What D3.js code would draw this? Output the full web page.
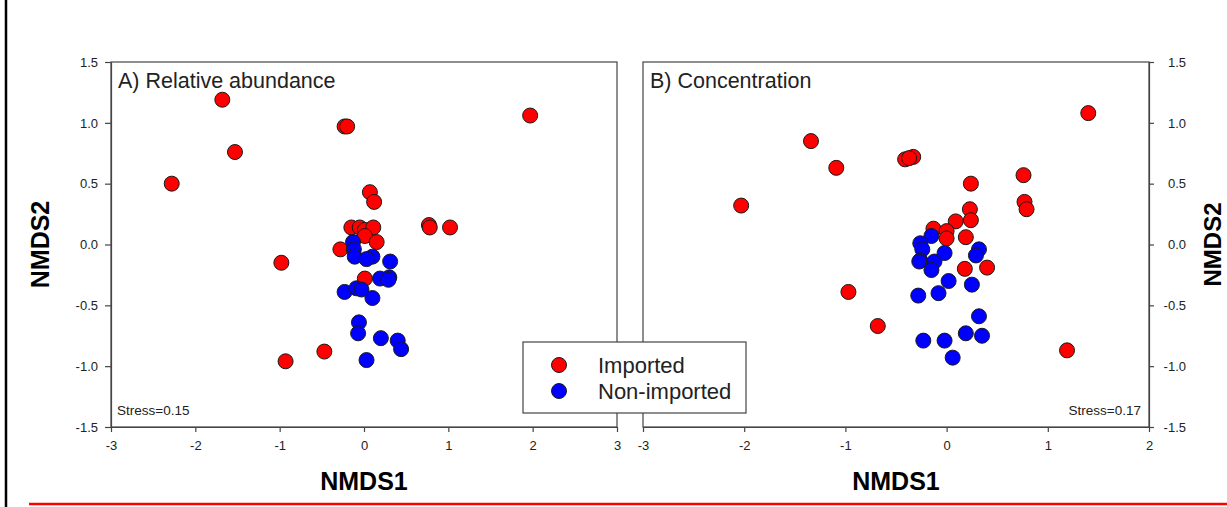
<!DOCTYPE html>
<html>
<head>
<meta charset="utf-8">
<script src="https://cdn.jsdelivr.net/npm/d3@7"></script>
<style>
  body { margin: 0; background: #fff; }
  svg text { font-family: "Liberation Sans", Arial, sans-serif; }
</style>
</head>
<body>
<div id="container"></div>
<script>
/* CONSTANTS AND GLOBALS */
const width = 1227;
const height = 507;

/* DATA */
const groups = ["Imported", "Non-imported"];
const groupColors = ["#ff0000", "#0000ff"];
const yTicks = [-1.5, -1.0, -0.5, 0.0, 0.5, 1.0, 1.5];

// A) Relative abundance
const aTitle = "A) Relative abundance";
const aStress = "Stress=0.15";
const aXTicks = [-3, -2, -1, 0, 1, 2, 3];
const aImported = [
  [-1.68, 1.19], [-0.23, 0.97], [-0.20, 0.97], [-1.53, 0.76], [1.97, 1.06],
  [-2.28, 0.50], [0.07, 0.43], [0.12, 0.35], [-0.15, 0.14], [-0.05, 0.14],
  [0.01, 0.12], [0.11, 0.14], [0.01, 0.07], [0.15, 0.02], [-0.28, -0.04],
  [-0.98, -0.15], [0.77, 0.16], [0.78, 0.14], [1.02, 0.14], [0.01, -0.28],
  [-0.47, -0.88], [-0.93, -0.96]
];
const aNonImported = [
  [-0.13, 0.02], [-0.12, -0.04], [-0.11, -0.10], [0.10, -0.10], [0.03, -0.12],
  [0.31, -0.14], [0.19, -0.28], [0.30, -0.27], [0.29, -0.29], [-0.23, -0.39],
  [-0.09, -0.36], [-0.03, -0.37], [0.10, -0.44], [-0.06, -0.64], [-0.07, -0.73],
  [0.20, -0.77], [0.40, -0.79], [0.44, -0.86], [0.03, -0.95]
];

// B) Concentration
const bTitle = "B) Concentration";
const bStress = "Stress=0.17";
const bXTicks = [-3, -2, -1, 0, 1, 2];
const bImported = [
  [1.40, 1.08], [-1.34, 0.85], [-1.09, 0.63], [-0.41, 0.70], [-0.33, 0.72],
  [-0.37, 0.71], [-2.03, 0.32], [0.24, 0.50], [0.76, 0.57], [0.77, 0.35],
  [0.79, 0.29], [0.23, 0.29], [0.24, 0.20], [0.09, 0.19], [-0.13, 0.13],
  [0.00, 0.11], [0.00, 0.05], [0.19, 0.06], [0.18, -0.20], [0.40, -0.19],
  [-0.97, -0.39], [-0.68, -0.67], [1.19, -0.87]
];
const bNonImported = [
  [-0.15, 0.07], [-0.26, 0.01], [-0.24, -0.04], [-0.26, -0.13], [-0.27, -0.14],
  [-0.12, -0.14], [-0.15, -0.21], [-0.02, -0.07], [0.32, -0.04], [0.29, -0.09],
  [0.02, -0.30], [0.25, -0.33], [-0.08, -0.40], [-0.28, -0.42], [0.32, -0.59],
  [0.19, -0.73], [0.35, -0.75], [-0.23, -0.79], [-0.02, -0.79], [0.06, -0.93]
];

const plotTop = 62, plotBottom = 427;
const axisColor = "#444";
const textColor = "#222";

// plain hyphen minus, as in the original figure
const fmtX = d => d3.format("d")(d).replace("\u2212", "-");
const fmtY = d => d3.format(".1f")(d).replace("\u2212", "-");

const svg = d3.select("#container")
  .append("svg")
  .attr("width", width)
  .attr("height", height)
  .style("background-color", "white");

// page decorations
svg.append("line").attr("x1", 6).attr("x2", 6).attr("y1", 0).attr("y2", height)
  .attr("stroke", "#000").attr("stroke-width", 2.5);
svg.append("line").attr("x1", 29).attr("x2", width).attr("y1", 504).attr("y2", 504)
  .attr("stroke", "#ff0000").attr("stroke-width", 2.5);

const yScale = d3.scaleLinear().domain([-1.5, 1.5]).range([plotBottom, plotTop]);

function panel(cfg) {
  const x = d3.scaleLinear().domain(cfg.xDomain).range(cfg.xRange);
  const g = svg.append("g");

  // frame
  g.append("rect")
    .attr("x", cfg.xRange[0]).attr("y", plotTop)
    .attr("width", cfg.xRange[1] - cfg.xRange[0]).attr("height", plotBottom - plotTop)
    .attr("fill", "none").attr("stroke", axisColor).attr("stroke-width", 1.2);

  // x axis
  const xAxis = g.append("g")
    .attr("transform", `translate(0,${plotBottom})`)
    .call(d3.axisBottom(x).tickValues(cfg.xTicks).tickFormat(fmtX)
      .tickSize(5).tickSizeOuter(0).tickPadding(9));

  // y axis
  const yAxisGen = cfg.yRight
    ? d3.axisRight(yScale).tickSize(5).tickPadding(13)
    : d3.axisLeft(yScale).tickSize(6).tickPadding(7);
  const yAxis = g.append("g")
    .attr("transform", `translate(${cfg.yRight ? cfg.xRange[1] : cfg.xRange[0]},0)`)
    .call(yAxisGen.tickValues(yTicks).tickFormat(fmtY).tickSizeOuter(0));
  if (cfg.yRight) yAxis.selectAll(".tick text").attr("x", 37).attr("text-anchor", "end");

  [xAxis, yAxis].forEach(a => {
    a.attr("font-size", 13).attr("font-family", null);
    a.selectAll("path, line").attr("stroke", axisColor).attr("stroke-width", 1.2);
    a.selectAll("text").attr("fill", textColor);
  });

  // points
  const series = [cfg.imported, cfg.nonImported];
  series.forEach((pts, i) => {
    g.append("g").selectAll("circle")
      .data(pts)
      .join("circle")
      .attr("cx", d => x(d[0]))
      .attr("cy", d => yScale(d[1]))
      .attr("r", 7.5)
      .attr("fill", groupColors[i])
      .attr("stroke", "#1a1a1a")
      .attr("stroke-width", 1);
  });

  // panel title
  g.append("text")
    .attr("x", cfg.xRange[0] + 7).attr("y", 88)
    .attr("fill", textColor).style("font-size", "21.5px")
    .text(cfg.title);

  // stress
  g.append("text")
    .attr("x", cfg.stressRight ? cfg.xRange[1] - 8 : cfg.xRange[0] + 6)
    .attr("y", 415)
    .attr("text-anchor", cfg.stressRight ? "end" : "start")
    .attr("fill", textColor).style("font-size", "13.5px")
    .text(cfg.stress);

  // axis titles
  g.append("text")
    .attr("x", (cfg.xRange[0] + cfg.xRange[1]) / 2).attr("y", 490)
    .attr("text-anchor", "middle")
    .attr("fill", "#000").style("font-size", "25px").style("font-weight", "bold")
    .text("NMDS1");

  const yTitleX = cfg.yRight ? 1221 : 31;
  g.append("text")
    .attr("transform", `translate(${yTitleX},${(plotTop + plotBottom) / 2}) rotate(-90)`)
    .attr("text-anchor", "middle")
    .attr("fill", "#000").style("font-size", cfg.yRight ? "24px" : "25px").style("font-weight", "bold")
    .attr("dy", cfg.yRight ? "0" : "0.72em")
    .text("NMDS2");
}

panel({
  xDomain: [-3, 3], xRange: [111, 617], xTicks: aXTicks,
  imported: aImported, nonImported: aNonImported,
  title: aTitle, stress: aStress, stressRight: false, yRight: false
});

panel({
  xDomain: [-3, 2], xRange: [643, 1149], xTicks: bXTicks,
  imported: bImported, nonImported: bNonImported,
  title: bTitle, stress: bStress, stressRight: true, yRight: true
});

/* LEGEND */
const legend = svg.append("g");
legend.append("rect")
  .attr("x", 523).attr("y", 342).attr("width", 223).attr("height", 71)
  .attr("fill", "white").attr("stroke", axisColor).attr("stroke-width", 1.2);

const legendY = d3.scalePoint().domain(groups).range([365, 391]);
legend.selectAll("circle")
  .data(groups)
  .join("circle")
  .attr("cx", 559)
  .attr("cy", d => legendY(d))
  .attr("r", 7.5)
  .attr("fill", (d, i) => groupColors[i])
  .attr("stroke", "#1a1a1a");

legend.selectAll("text")
  .data(groups)
  .join("text")
  .attr("x", 598)
  .attr("y", d => legendY(d) + 7.5)
  .attr("fill", textColor)
  .style("font-size", "22px")
  .text(d => d);
</script>
</body>
</html>
